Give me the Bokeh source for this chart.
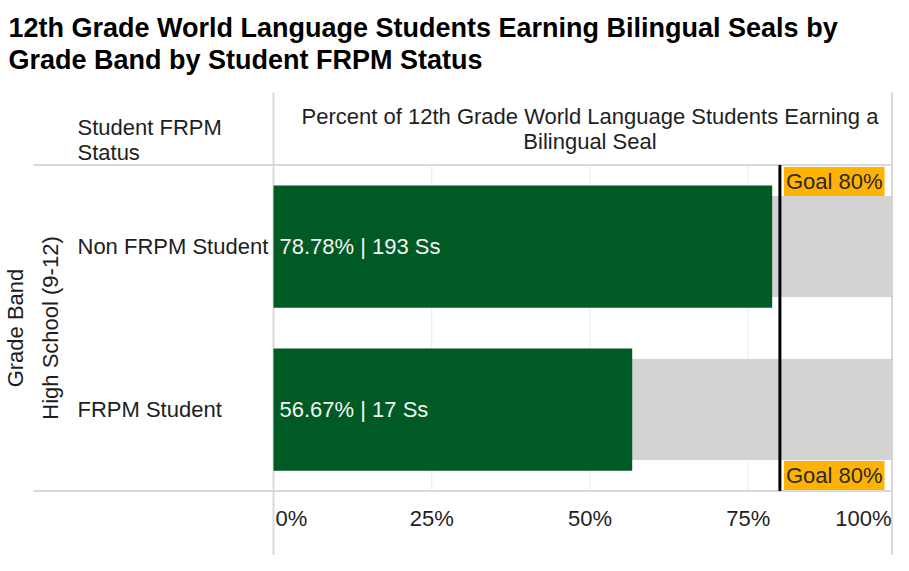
import math
from bokeh.plotting import figure
from bokeh.models import Range1d, Label, ColumnDataSource
from bokeh.embed import file_html
from bokeh.resources import INLINE
from bokeh.core.properties import value

# ---------------- data ----------------
title_lines = ["12th Grade World Language Students Earning Bilingual Seals by",
               "Grade Band by Student FRPM Status"]
row_header = ["Student FRPM", "Status"]
value_header = ["Percent of 12th Grade World Language Students Earning a",
                "Bilingual Seal"]
grade_band_title = "Grade Band"
grade_band = "High School (9-12)"
categories = ["FRPM Student", "Non FRPM Student"]
percent = [56.67, 78.78]
students = [17, 193]
goal = 80
goal_label = "Goal 80%"
tick_values = [0, 25, 50, 75, 100]
tick_labels = ["0%", "25%", "50%", "75%", "100%"]

# ---------------- layout ----------------
W, H = 893, 555
X0PIX = 273                      # canvas px where 0% sits
SX = 6.33                        # px per percent
XMIN, XMAX = -X0PIX / SX, (W - X0PIX) / SX
ROW = 163.0                      # px per row
YMAX = 409 / ROW
YMIN = YMAX - H / ROW

def px(x):
    return XMIN + x / SX

def py(y):
    return YMAX - y / ROW

FONT = "Liberation Sans"
TXT = "#1E1E1E"
LINE = "#D9D9D9"
FS = "22px"

p = figure(width=W, height=H, x_range=Range1d(XMIN, XMAX), y_range=Range1d(YMIN, YMAX),
           output_backend="svg", toolbar_location=None, min_border=0,
           x_axis_type=None, y_axis_type=None)
p.grid.visible = False
p.outline_line_color = None
p.background_fill_color = "white"

idx = list(range(len(categories)))
lo, hi = -0.5, len(categories) - 0.5

# grid lines
grid_x = [t for t in tick_values if 0 < t < 100]
p.segment(x0=grid_x, x1=grid_x, y0=[lo] * len(grid_x), y1=[hi] * len(grid_x),
          line_color="#EBEBEB", line_width=1)

# table lines
p.segment(x0=[0], x1=[0], y0=[YMIN], y1=[py(92)], line_color=LINE, line_width=2)
p.segment(x0=[px(33), px(33)], x1=[XMAX, XMAX], y0=[lo, hi], y1=[lo, hi],
          line_color=LINE, line_width=2)
p.segment(x0=[px(891.5)], x1=[px(891.5)], y0=[YMIN], y1=[py(92)], line_color=LINE, line_width=2)

src = ColumnDataSource(dict(
    y=idx, pct=percent, full=[100] * len(idx), zero=[0] * len(idx),
    cat=categories,
    lab=[f"{v:.2f}% | {n} Ss" for v, n in zip(percent, students)],
))

# background bars and value bars
p.hbar(y="y", left="zero", right="full", height=0.62, source=src,
       fill_color="#D3D3D3", line_color=None)
p.hbar(y="y", left="zero", right="pct", height=0.75, source=src,
       fill_color="#005A23", line_color=None)

# goal line
p.segment(x0=[goal], x1=[goal], y0=[lo], y1=[hi], line_color="black", line_width=3)

# goal labels
for yy, base, yoff in [(hi, "top", -2), (lo, "bottom", 1)]:
    p.add_layout(Label(x=goal, y=yy, x_offset=4, y_offset=yoff, text=goal_label,
                       text_align="left", text_baseline=base,
                       text_font=FONT, text_font_size="22px", text_color="#2A2A2A",
                       background_fill_color="#FFB300", padding=2))

# bar value labels
p.text(x="zero", y="y", text="lab", source=src, x_offset=6,
       text_align="left", text_baseline="middle",
       text_font=value(FONT), text_font_size=FS, text_color="#F4F4F4")

# category labels
p.text(x=[px(77)] * len(idx), y=idx, text=categories,
       text_align="left", text_baseline="middle",
       text_font=value(FONT), text_font_size=FS, text_color=TXT)

# rotated labels
mid = (lo + hi) / 2
p.add_layout(Label(x=px(15), y=mid, text=grade_band_title, angle=math.pi / 2,
                   text_align="center", text_baseline="middle",
                   text_font=FONT, text_font_size=FS, text_color=TXT))
p.add_layout(Label(x=px(50), y=mid, text=grade_band, angle=math.pi / 2,
                   text_align="center", text_baseline="middle",
                   text_font=FONT, text_font_size=FS, text_color=TXT))

# headers
for line, yy in zip(row_header, [127, 152]):
    p.add_layout(Label(x=px(77), y=py(yy), text=line, text_align="left",
                       text_baseline="middle", text_font=FONT,
                       text_font_size=FS, text_color=TXT))
for line, yy in zip(value_header, [116, 141]):
    p.add_layout(Label(x=50, y=py(yy), text=line, text_align="center",
                       text_baseline="middle", text_font=FONT,
                       text_font_size=FS, text_color=TXT))

# title
for line, yy in zip(title_lines, [27, 59]):
    p.add_layout(Label(x=px(8), y=py(yy), text=line, text_align="left",
                       text_baseline="middle", text_font=FONT,
                       text_font_size="27px", text_font_style="bold",
                       text_color="black"))

# tick labels
ty = py(518)
p.text(x=[tick_values[0]], y=[ty], text=[tick_labels[0]], x_offset=2,
       text_align="left", text_baseline="middle",
       text_font=value(FONT), text_font_size=FS, text_color=TXT)
p.text(x=tick_values[1:-1], y=[ty] * (len(tick_values) - 2), text=tick_labels[1:-1],
       text_align="center", text_baseline="middle",
       text_font=value(FONT), text_font_size=FS, text_color=TXT)
p.text(x=[XMAX], y=[ty], text=[tick_labels[-1]], x_offset=-2,
       text_align="right", text_baseline="middle",
       text_font=value(FONT), text_font_size=FS, text_color=TXT)

open("out.html", "w").write(file_html(p, INLINE))
